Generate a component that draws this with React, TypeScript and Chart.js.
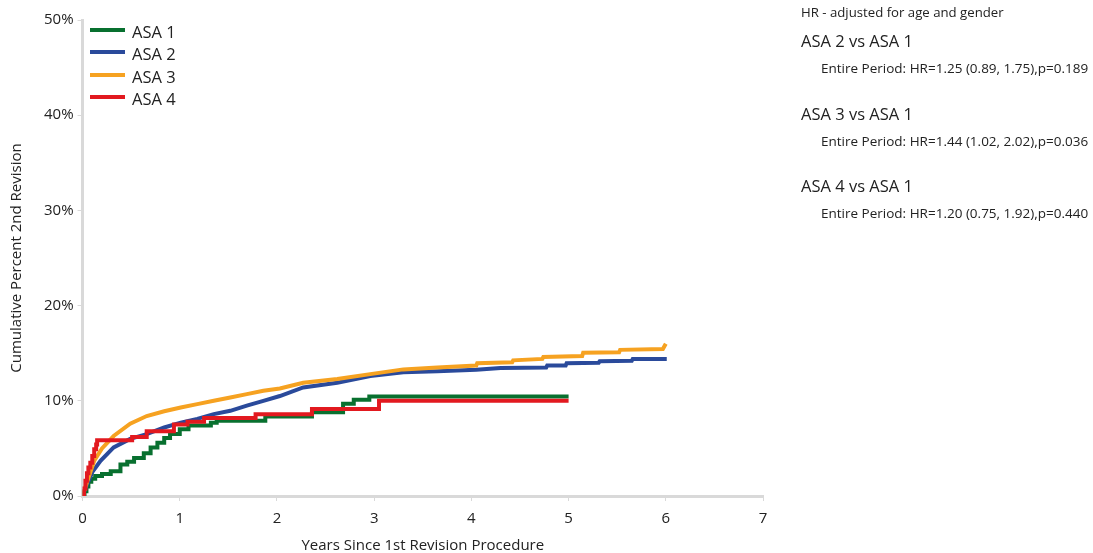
import React, { useEffect, useRef } from "react";
import { Chart, registerables } from "chart.js";

Chart.register(...registerables);

const FONT = "'Open Sans', 'Noto Sans', sans-serif";

const seriesNames = ["ASA 1", "ASA 2", "ASA 3", "ASA 4"];
const seriesColors = ["#08702f", "#2a4a9b", "#f6a221", "#e2191f"];
const seriesStepped = [true, false, false, true];

const asa1X = [0, 0.02, 0.04, 0.06, 0.09, 0.13, 0.2, 0.29, 0.39, 0.46, 0.53, 0.63, 0.7, 0.77, 0.84, 0.9, 1.0, 1.09, 1.32, 1.38, 1.88, 2.36, 2.68, 2.79, 2.95, 5.0];
const asa1Y = [0, 0.5, 1.0, 1.5, 1.8, 2.1, 2.3, 2.6, 3.3, 3.6, 4.0, 4.5, 5.1, 5.6, 6.1, 6.5, 7.0, 7.4, 7.7, 7.9, 8.35, 8.8, 9.7, 10.1, 10.45, 10.45];

const asa2X = [0, 0.05, 0.1, 0.185, 0.32, 0.49, 0.66, 0.84, 1.01, 1.18, 1.35, 1.52, 1.69, 1.86, 2.03, 2.27, 2.62, 2.96, 3.3, 3.65, 4.05, 4.3, 4.77, 4.78, 4.97, 4.98, 5.31, 5.32, 5.65, 5.66, 6.01];
const asa2Y = [0, 1.3, 2.5, 3.7, 5.1, 6.0, 6.5, 7.2, 7.7, 8.1, 8.6, 8.95, 9.5, 10.0, 10.5, 11.4, 11.9, 12.6, 13.0, 13.1, 13.25, 13.45, 13.5, 13.7, 13.7, 13.95, 14.0, 14.15, 14.2, 14.4, 14.4];

const asa3X = [0, 0.05, 0.12, 0.2, 0.32, 0.49, 0.66, 0.84, 1.01, 1.18, 1.35, 1.52, 1.69, 1.86, 2.03, 2.27, 2.62, 2.96, 3.3, 3.65, 4.05, 4.06, 4.42, 4.43, 4.73, 4.74, 5.14, 5.15, 5.52, 5.53, 5.97, 6.0];
const asa3Y = [0, 1.6, 3.7, 5.0, 6.3, 7.6, 8.4, 8.9, 9.3, 9.65, 10.0, 10.35, 10.7, 11.05, 11.3, 11.9, 12.3, 12.8, 13.3, 13.5, 13.7, 13.95, 14.05, 14.25, 14.4, 14.6, 14.7, 15.05, 15.1, 15.35, 15.45, 16.0];

const asa4X = [0, 0.015, 0.03, 0.045, 0.06, 0.08, 0.1, 0.12, 0.14, 0.15, 0.51, 0.66, 0.94, 1.08, 1.25, 1.78, 2.36, 3.05, 5.0];
const asa4Y = [0, 0.8, 1.6, 2.4, 3.0, 3.5, 4.2, 4.9, 5.4, 5.86, 6.2, 6.8, 7.5, 7.8, 8.2, 8.6, 9.15, 10.0, 10.0];

const xTicks = [0, 1, 2, 3, 4, 5, 6, 7];
const yTicks = [0, 10, 20, 30, 40, 50];

const xTitle = "Years Since 1st Revision Procedure";
const yTitle = "Cumulative Percent 2nd Revision";

const hrHeader = "HR - adjusted for age and gender";
const hrComparisons = ["ASA 2 vs ASA 1", "ASA 3 vs ASA 1", "ASA 4 vs ASA 1"];
const hrDetails = [
  "Entire Period: HR=1.25 (0.89, 1.75),p=0.189",
  "Entire Period: HR=1.44 (1.02, 2.02),p=0.036",
  "Entire Period: HR=1.20 (0.75, 1.92),p=0.440",
];

const allX = [asa1X, asa2X, asa3X, asa4X];
const allY = [asa1Y, asa2Y, asa3Y, asa4Y];

export default function App() {
  const ref = useRef<HTMLCanvasElement | null>(null);

  useEffect(() => {
    if (!ref.current) return;
    const chart = new Chart(ref.current, {
      type: "line",
      data: {
        datasets: seriesNames.map((name, i) => ({
          label: name,
          data: allX[i].map((x, j) => ({ x, y: allY[i][j] })),
          borderColor: seriesColors[i],
          backgroundColor: seriesColors[i],
          borderWidth: 4,
          pointRadius: 0,
          stepped: seriesStepped[i],
          tension: 0,
          fill: false,
          order: i === 3 ? 0 : 4 - i,
        })),
      },
      options: {
        responsive: false,
        animation: false,
        layout: { padding: { left: 8, right: 330, top: 20, bottom: -2 } },
        plugins: {
          legend: { display: false },
          tooltip: { enabled: false },
        },
        scales: {
          x: {
            type: "linear",
            min: 0,
            max: 7,
            afterBuildTicks: (axis: any) => {
              axis.ticks = xTicks.map((v) => ({ value: v }));
            },
            ticks: {
              font: { family: FONT, size: 15 },
              color: "#222",
              padding: 9,
              maxRotation: 0,
            },
            grid: {
              display: true,
              drawOnChartArea: false,
              drawTicks: true,
              tickLength: 5,
              color: "#d9d9d9",
            },
            border: { color: "#d9d9d9", width: 3 },
            title: {
              display: true,
              text: xTitle,
              font: { family: FONT, size: 15 },
              color: "#222",
              padding: { top: 0, bottom: 0 },
            },
          },
          y: {
            type: "linear",
            min: 0,
            max: 50,
            afterBuildTicks: (axis: any) => {
              axis.ticks = yTicks.map((v) => ({ value: v }));
            },
            ticks: {
              font: { family: FONT, size: 15 },
              color: "#222",
              padding: 4,
              callback: (v: any) => v + "%",
            },
            grid: {
              display: true,
              drawOnChartArea: false,
              drawTicks: true,
              tickLength: 5,
              color: "#d9d9d9",
            },
            border: { color: "#d9d9d9", width: 3 },
            title: {
              display: true,
              text: yTitle,
              font: { family: FONT, size: 15 },
              color: "#222",
              padding: { top: 0, bottom: 14 },
            },
          },
        },
      },
    });
    return () => chart.destroy();
  }, []);

  return (
    <div style={{ position: "fixed", left: 0, top: 0, width: 1093, height: 553, background: "#fff", fontFamily: FONT, color: "#222" }}>
      <canvas ref={ref} width={1093} height={553} style={{ position: "absolute", left: 0, top: 0 }} />
      {seriesNames.map((name, i) => (
        <div key={name} style={{ position: "absolute", left: 90, top: 21 + i * 22.3, height: 22, display: "flex", alignItems: "center" }}>
          <div style={{ width: 35, height: 4, background: seriesColors[i], marginRight: 7, marginTop: -4 }} />
          <span style={{ fontSize: 16.5, lineHeight: "22px" }}>{name}</span>
        </div>
      ))}
      <div style={{ position: "absolute", left: 801, top: 3, fontSize: 13.2, lineHeight: "18px", whiteSpace: "nowrap" }}>{hrHeader}</div>
      {hrComparisons.map((c, i) => (
        <React.Fragment key={c}>
          <div style={{ position: "absolute", left: 801, top: 30 + i * 72.5, fontSize: 16.5, lineHeight: "22px", whiteSpace: "nowrap" }}>{c}</div>
          <div style={{ position: "absolute", left: 821, top: 59 + i * 72.5, fontSize: 13.5, lineHeight: "18px", whiteSpace: "nowrap" }}>{hrDetails[i]}</div>
        </React.Fragment>
      ))}
    </div>
  );
}
